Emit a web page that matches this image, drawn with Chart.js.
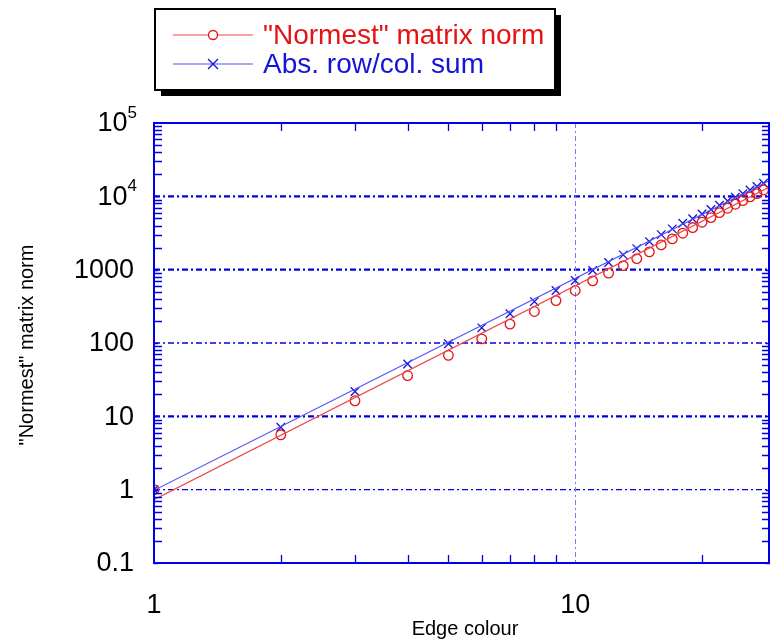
<!DOCTYPE html>
<html>
<head>
<meta charset="utf-8">
<script src="https://cdn.jsdelivr.net/npm/chart.js@4"></script>
<style>
  html, body { margin: 0; padding: 0; background: #fff; }
  #wrap { width: 771px; height: 644px; }
</style>
</head>
<body>
<div id="wrap"><canvas id="normChart" width="771" height="644"></canvas></div>
<script>
// data
const edgeColours = [1, 2, 3, 4, 5, 6, 7, 8, 9, 10, 11, 12, 13, 14, 15, 16, 17, 18, 19, 20, 21, 22, 23, 24, 25, 26, 27, 28];
const normestValues = [1, 5.6, 16.3, 36, 68, 114, 181, 269, 379, 520, 704, 896, 1137, 1416, 1749, 2178, 2628, 3141, 3750, 4436, 5130, 6000, 6880, 7800, 8750, 9820, 10900, 12200];
const absSumValues = [1, 7.1, 21.8, 51.6, 97.5, 161, 250, 367, 520, 710, 972, 1250, 1592, 1938, 2415, 3006, 3600, 4300, 4950, 5750, 6600, 7550, 8650, 9700, 10900, 12200, 13600, 15070];
// fitted power-law lines (end points)
const fitX = [1, 29];
const normestFit = [0.73, 13500];
const absSumFit = [0.98, 16500];

const xTickValues = [1, 10];
const xTickLabels = ['1', '10'];
const yTickValues = [0.1, 1, 10, 100, 1000, 1e4, 1e5];
const yTickLabels = ['0.1', '1', '10', '100', '1000', '10^4', '10^5'];

const seriesNames = ['"Normest" matrix norm', 'Abs. row/col. sum'];
const xTitle = 'Edge colour';
const yTitle = '"Normest" matrix norm';

const RED = 'rgb(228,20,20)';
const RED_LINE = 'rgb(240,70,70)';
const BLUE = 'rgb(20,20,215)';
const BLUE_LINE = 'rgb(80,80,250)';
const AXIS = 'rgb(0,0,230)';
const FONT = '"Liberation Sans", Arial, sans-serif';

const pairs = (xs, ys) => xs.map((x, i) => ({ x: x, y: ys[i] }));

const decor = {
  id: 'decor',
  beforeDatasetsDraw(chart) {
    const ctx = chart.ctx, a = chart.chartArea;
    const xs = chart.scales.x, ys = chart.scales.y;
    ctx.save();
    // horizontal dash-dot grid at decades
    yTickValues.forEach((v, i) => {
      if (i === 0 || i === yTickValues.length - 1) return;
      const y = ys.getPixelForValue(v);
      ctx.strokeStyle = AXIS;
      ctx.lineWidth = (v === 1 || v === 100) ? 1.3 : 2.4;
      ctx.setLineDash([6, 3, 2, 3]);
      ctx.beginPath();
      ctx.moveTo(a.left, y);
      ctx.lineTo(a.right, y);
      ctx.stroke();
    });
    // vertical grid at 10
    const gx = Math.round(xs.getPixelForValue(10)) + 0.5;
    ctx.strokeStyle = 'rgb(120,120,255)';
    ctx.lineWidth = 1;
    ctx.setLineDash([5, 3, 2, 3]);
    ctx.beginPath();
    ctx.moveTo(gx, a.top);
    ctx.lineTo(gx, a.bottom);
    ctx.stroke();
    ctx.restore();
  },
  afterDraw(chart) {
    const ctx = chart.ctx, a = chart.chartArea;
    const xs = chart.scales.x, ys = chart.scales.y;
    ctx.save();
    ctx.setLineDash([]);

    // minor ticks, left/right
    ctx.strokeStyle = AXIS;
    ctx.lineWidth = 1.3;
    for (let e = -1; e < 5; e++) {
      for (let m = 1; m < 10; m++) {
        const v = m * Math.pow(10, e);
        const y = Math.round(ys.getPixelForValue(v)) + 0.5;
        const len = m === 1 ? 4 : 8;
        ctx.beginPath();
        ctx.moveTo(a.left, y); ctx.lineTo(a.left + len, y);
        ctx.moveTo(a.right, y); ctx.lineTo(a.right - len, y);
        ctx.stroke();
      }
    }
    // minor ticks, top/bottom
    [2, 3, 4, 5, 6, 7, 8, 9, 20].forEach(v => {
      const x = Math.round(xs.getPixelForValue(v)) + 0.5;
      ctx.beginPath();
      ctx.moveTo(x, a.bottom); ctx.lineTo(x, a.bottom - 8);
      ctx.moveTo(x, a.top); ctx.lineTo(x, a.top + 8);
      ctx.stroke();
    });

    // frame
    ctx.lineWidth = 2;
    ctx.strokeStyle = AXIS;
    ctx.strokeRect(a.left, a.top, a.right - a.left - 1, a.bottom - a.top);

    // y tick labels
    ctx.fillStyle = '#000';
    ctx.textBaseline = 'middle';
    yTickValues.forEach((v, i) => {
      const y = ys.getPixelForValue(v);
      const lab = yTickLabels[i];
      if (lab.indexOf('^') >= 0) {
        const parts = lab.split('^');
        ctx.font = '17px ' + FONT;
        ctx.textAlign = 'right';
        ctx.fillText(parts[1], 137, y - 10);
        const w = ctx.measureText(parts[1]).width;
        ctx.font = '27px ' + FONT;
        ctx.fillText(parts[0], 137 - w, y + 1);
      } else {
        ctx.font = '27px ' + FONT;
        ctx.textAlign = 'right';
        ctx.fillText(lab, 134, y + 1);
      }
    });
    // x tick labels
    ctx.font = '27px ' + FONT;
    ctx.textAlign = 'center';
    xTickValues.forEach((v, i) => {
      ctx.fillText(xTickLabels[i], xs.getPixelForValue(v), 606);
    });
    // axis titles
    ctx.font = '20px ' + FONT;
    ctx.fillText(xTitle, 465, 629);
    ctx.translate(27, 345);
    ctx.rotate(-Math.PI / 2);
    ctx.fillText(yTitle, 0, 0);
    ctx.setTransform(1, 0, 0, 1, 0, 0);

    // legend box with shadow
    const bx = 155, by = 9, bw = 400, bh = 81;
    ctx.fillStyle = '#000';
    ctx.fillRect(bx + 6, by + 6, bw, bh);
    ctx.fillStyle = '#fff';
    ctx.fillRect(bx, by, bw, bh);
    ctx.strokeStyle = '#000';
    ctx.lineWidth = 2;
    ctx.strokeRect(bx, by, bw, bh);

    const rows = [
      { y: 35, line: RED_LINE, mark: RED, txt: seriesNames[0], circle: true },
      { y: 64, line: BLUE_LINE, mark: BLUE, txt: seriesNames[1], circle: false }
    ];
    rows.forEach(r => {
      ctx.strokeStyle = r.line;
      ctx.lineWidth = 1.2;
      ctx.beginPath();
      ctx.moveTo(173, r.y); ctx.lineTo(253, r.y);
      ctx.stroke();
      ctx.strokeStyle = r.mark;
      ctx.lineWidth = 1.3;
      ctx.beginPath();
      if (r.circle) {
        ctx.fillStyle = '#fff';
        ctx.arc(213, r.y, 4.5, 0, Math.PI * 2);
        ctx.fill();
      } else {
        ctx.moveTo(208, r.y - 5); ctx.lineTo(218, r.y + 5);
        ctx.moveTo(218, r.y - 5); ctx.lineTo(208, r.y + 5);
      }
      ctx.stroke();
      ctx.fillStyle = r.mark;
      ctx.font = '28px ' + FONT;
      ctx.textAlign = 'left';
      ctx.textBaseline = 'middle';
      ctx.fillText(r.txt, 263, r.y + 1);
    });
    ctx.restore();
  }
};

const ctx = document.getElementById('normChart').getContext('2d');
new Chart(ctx, {
  type: 'scatter',
  data: {
    datasets: [
      {
        label: 'normest fit',
        data: pairs(fitX, normestFit),
        showLine: true,
        borderColor: RED_LINE,
        borderWidth: 1.2,
        pointRadius: 0
      },
      {
        label: 'abs fit',
        data: pairs(fitX, absSumFit),
        showLine: true,
        borderColor: BLUE_LINE,
        borderWidth: 1.2,
        pointRadius: 0
      },
      {
        label: seriesNames[0],
        data: pairs(edgeColours, normestValues),
        pointStyle: 'circle',
        pointRadius: 4.8,
        borderColor: RED,
        backgroundColor: 'rgba(0,0,0,0)',
        borderWidth: 1.3
      },
      {
        label: seriesNames[1],
        data: pairs(edgeColours, absSumValues),
        pointStyle: 'crossRot',
        pointRadius: 6,
        borderColor: BLUE,
        borderWidth: 1.3
      }
    ]
  },
  options: {
    responsive: false,
    animation: false,
    layout: { autoPadding: false, padding: { left: 154, right: 1, top: 123, bottom: 81 } },
    plugins: { legend: { display: false }, tooltip: { enabled: false } },
    scales: {
      x: { type: 'logarithmic', bounds: 'data', min: 1, max: 29, display: false },
      y: { type: 'logarithmic', bounds: 'data', min: 0.1, max: 1e5, display: false }
    }
  },
  plugins: [decor]
});
</script>
</body>
</html>
